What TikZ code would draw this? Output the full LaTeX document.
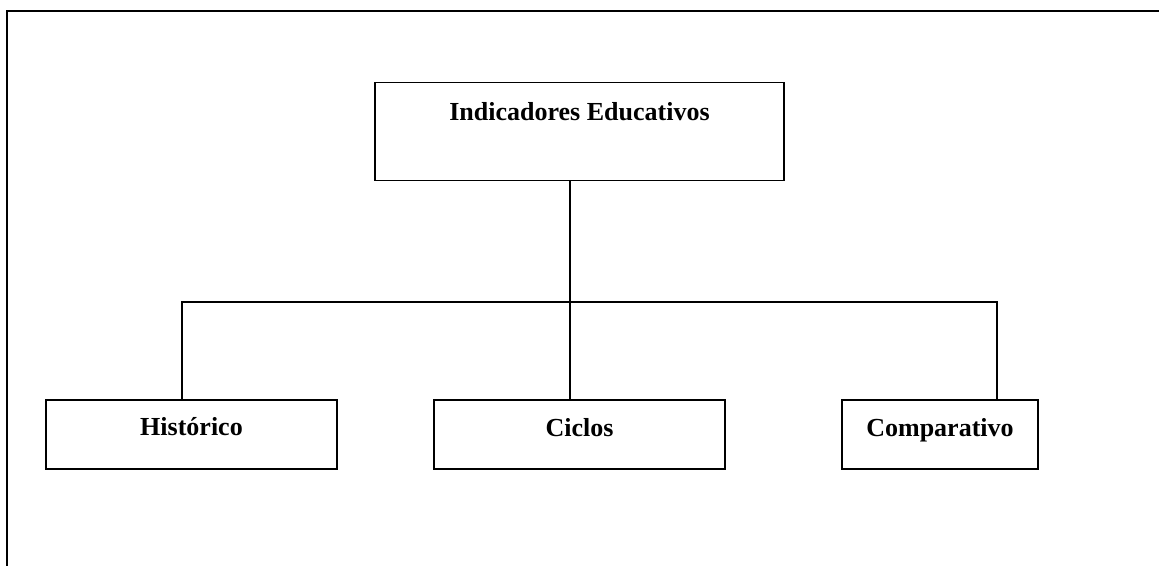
\documentclass[tikz,border=0pt]{standalone}
\usepackage{fontspec}
\setmainfont{Liberation Serif}
\begin{document}
\begin{tikzpicture}[x=1pt,y=-1pt,
  boxstyle/.style={draw=black,line width=1.6pt,rectangle,inner sep=0pt},
  lbl/.style={anchor=base,inner sep=0pt,font=\bfseries\fontsize{26}{30}\selectfont},
  conn/.style={draw=black,line width=1.8pt}]
\useasboundingbox (0,0) rectangle (1159,565);
\draw[line width=2pt] (7,600) -- (7,11) -- (1200,11);
\node[boxstyle,minimum width=409pt,minimum height=98pt] (top) at (579.5,131.5) {};
\node[boxstyle,minimum width=291pt,minimum height=69pt] (hist) at (191.5,434.5) {};
\node[boxstyle,minimum width=291pt,minimum height=69pt] (cic) at (579.5,434.5) {};
\node[boxstyle,minimum width=196pt,minimum height=69pt] (comp) at (940,434.5) {};
\node[lbl] (ttop) at (579.5,120) {Indicadores Educativos};
\node[lbl] (thist) at (191.5,435) {Histórico};
\node[lbl] (tcic) at (579.5,436) {Ciclos};
\node[lbl] (tcomp) at (940,436) {Comparativo};
\coordinate (jc) at (570,302);
\coordinate (jl) at (182,302);
\coordinate (jr) at (997,302);
\draw[conn] (top.south -| jc) -- (cic.north -| jc);
\draw[conn] (hist.north -| jl) -- (jl) -- (jr) -- (comp.north -| jr);
\end{tikzpicture}
\end{document}
